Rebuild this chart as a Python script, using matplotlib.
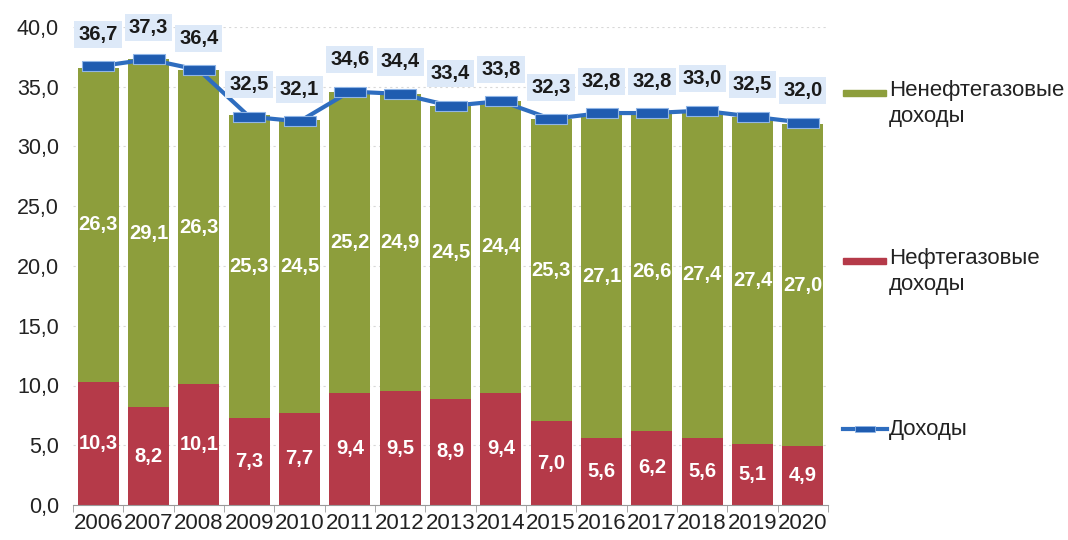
import matplotlib
matplotlib.use("Agg")
import matplotlib.pyplot as plt
from matplotlib.patches import Rectangle
from matplotlib.lines import Line2D
import numpy as np

plt.rcParams['font.family'] = ['Liberation Sans', 'DejaVu Sans']

years = ['2006', '2007', '2008', '2009', '2010', '2011', '2012', '2013',
         '2014', '2015', '2016', '2017', '2018', '2019', '2020']
oil_gas = [10.3, 8.2, 10.1, 7.3, 7.7, 9.4, 9.5, 8.9, 9.4, 7.0, 5.6, 6.2, 5.6, 5.1, 4.9]
non_oil = [26.3, 29.1, 26.3, 25.3, 24.5, 25.2, 24.9, 24.5, 24.4, 25.3, 27.1, 26.6, 27.4, 27.4, 27.0]
total = [36.7, 37.3, 36.4, 32.5, 32.1, 34.6, 34.4, 33.4, 33.8, 32.3, 32.8, 32.8, 33.0, 32.5, 32.0]
yticks = [0, 5, 10, 15, 20, 25, 30, 35, 40]

label_non_oil = 'Ненефтегазовые\nдоходы'
label_oil = 'Нефтегазовые\nдоходы'
label_total = 'Доходы'

def fmt(v):
    return f'{v:.1f}'.replace('.', ',')

GREEN = '#8d9e3c'
RED = '#b53a49'
BLUE = '#2e6dbf'
MBLUE = '#1f5cb0'
BOX = '#dde9f8'

fig = plt.figure(figsize=(10.68, 5.40), dpi=100)
ax = fig.add_axes([73 / 1068, 35 / 540, 755 / 1068, 478 / 540])

x = np.arange(len(years))
w = 0.82
ax.bar(x, oil_gas, width=w, color=RED, zorder=2)
ax.bar(x, non_oil, width=w, bottom=oil_gas, color=GREEN, zorder=2)

# marker: wide rectangle
mverts = [(-1.5, -0.5), (1.5, -0.5), (1.5, 0.5), (-1.5, 0.5), (-1.5, -0.5)]
ax.plot(x, total, color=BLUE, lw=3, zorder=3,
        marker=mverts, markersize=23, markerfacecolor=MBLUE,
        markeredgecolor='#8fb5e6', markeredgewidth=0.8)

for xi, o, n, t in zip(x, oil_gas, non_oil, total):
    ax.text(xi, o / 2, fmt(o), ha='center', va='center', color='white',
            fontsize=14.5, fontweight='bold', zorder=4)
    ax.text(xi, o + n / 2, fmt(n), ha='center', va='center', color='white',
            fontsize=14.5, fontweight='bold', zorder=4)
    ax.annotate(fmt(t), (xi, t), xytext=(0, 23), textcoords='offset points',
                ha='center', va='center', fontsize=14.5, fontweight='bold',
                color='#1a1a1a', zorder=5, annotation_clip=False,
                bbox=dict(boxstyle='square,pad=0.2', fc=BOX, ec='none'))

ax.set_xlim(-0.5, len(years) - 0.5)
ax.set_ylim(0, 40)
ax.set_yticks(yticks)
ax.set_yticklabels([fmt(v) for v in yticks], fontsize=15.5, color='#222222')
ax.tick_params(axis='y', length=0, pad=10)
ax.set_xticks(x)
ax.set_xticklabels(years, fontsize=16, color='#222222')
ax.set_xticks(np.arange(-0.5, len(years), 1.0), minor=True)
ax.tick_params(axis='x', which='major', length=0, pad=6)
ax.tick_params(axis='x', which='minor', length=5, color='#9a9a9a', direction='out')
for s in ['top', 'right', 'left']:
    ax.spines[s].set_visible(False)
ax.spines['bottom'].set_color('#9a9a9a')
ax.yaxis.grid(True, color='#d8d8d8', linestyle=(0, (2, 3)), lw=0.8, zorder=0)
ax.set_axisbelow(True)

# legend drawn manually at right
def fy(py):
    return 1 - py / 540

def fx(px):
    return px / 1068

fig.add_artist(Rectangle((fx(843), fy(96)), fx(886) - fx(843), 6 / 540,
                         transform=fig.transFigure, color=GREEN))
fig.text(fx(889), fy(80), label_non_oil, fontsize=16, va='top', ha='left',
         color='#222222', linespacing=1.3)
fig.add_artist(Rectangle((fx(843), fy(264)), fx(886) - fx(843), 6 / 540,
                         transform=fig.transFigure, color=RED))
fig.text(fx(889), fy(248), label_oil, fontsize=16, va='top', ha='left',
         color='#222222', linespacing=1.3)
fig.add_artist(Line2D([fx(843), fx(887)], [fy(429), fy(429)],
                      transform=fig.transFigure, color=BLUE, lw=3))
fig.add_artist(Line2D([fx(865)], [fy(429)], transform=fig.transFigure,
                      marker=mverts, markersize=14, markerfacecolor=MBLUE,
                      markeredgecolor='#8fb5e6', markeredgewidth=0.6, lw=0))
fig.text(fx(889), fy(429), label_total, fontsize=16, va='center', ha='left',
         color='#222222')

fig.savefig('out.png', dpi=100)
